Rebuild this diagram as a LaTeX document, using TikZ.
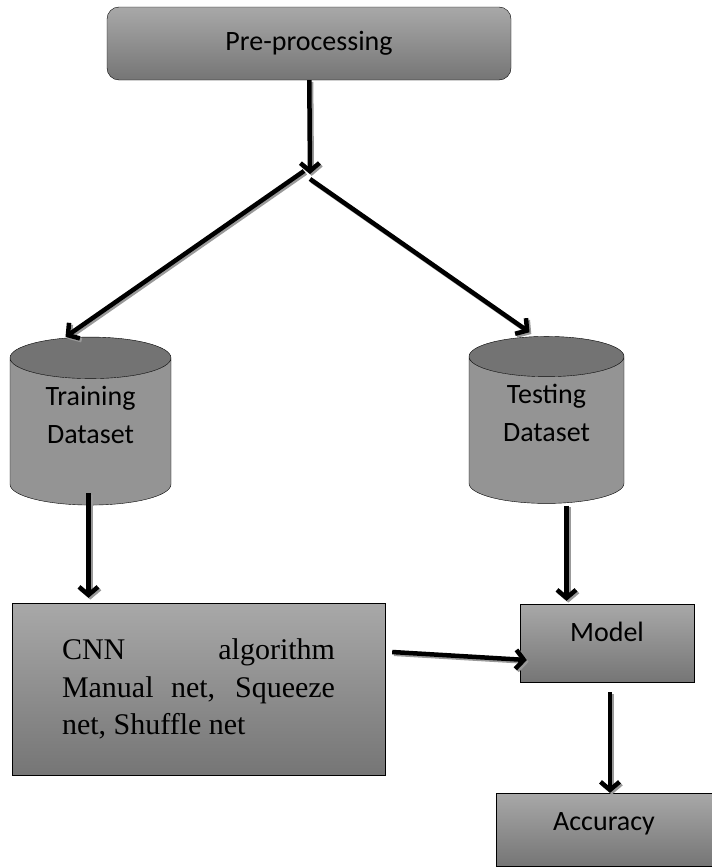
\documentclass[tikz,border=0pt]{standalone}
\usepackage{fontspec}
\setmainfont{Carlito}
\newfontfamily\timesfont{Liberation Serif}
\usepackage{tikz}
\usetikzlibrary{arrows.meta,shapes,calc}

\tikzset{
  grayshade/.style={draw,top color=black!34,bottom color=black!54},
  datacyl/.style={draw,cylinder,shape border rotate=90,aspect=0.43,
    cylinder uses custom fill,cylinder body fill=black!42,cylinder end fill=black!55,
    align=center,text depth=40bp,font=\fontsize{28bp}{38bp}\selectfont},
  flow/.style={->,line width=4.5bp,
    preaction={draw=black!40,line width=4.5bp,transform canvas={xshift=1.8bp,yshift=-1.8bp}}}
}

\begin{document}
\begin{tikzpicture}[font=\fontsize{28bp}{34bp}\selectfont,>={Straight Barb[length=8bp,width=19bp]}]
\useasboundingbox (0bp,0bp) rectangle (712bp,-867bp);
\node (pre) at (309bp,-43.5bp)[grayshade,rounded corners=12bp,minimum width=404bp,minimum height=73bp] {Pre-processing};
\coordinate (fork) at (310bp,-174bp);
\node (train) at (90.5bp,-434.5bp)[datacyl,minimum width=161bp,minimum height=168bp] {Training\\Dataset};
\node (test) at (546.5bp,-433bp)[datacyl,minimum width=155bp,minimum height=167bp] {Testing\\Dataset};
\node (cnn) at (198.5bp,-689bp)[grayshade,minimum width=373bp,minimum height=172bp,
  font=\timesfont\fontsize{30bp}{37.5bp}\selectfont,align=left]
  {\makebox[273bp][s]{CNN algorithm}\\\makebox[273bp][s]{Manual net, Squeeze}\\net, Shuffle net\hspace*{\fill}};
\node (model) at (607bp,-643bp)[grayshade,minimum width=174bp,minimum height=78bp,text depth=22bp] {Model};
\node (acc) at (604bp,-829.5bp)[grayshade,minimum width=216bp,minimum height=73bp,text depth=16bp] {Accuracy};
\draw [flow] (pre) to (fork);
\draw [flow] ([xshift=-6bp,yshift=3bp]fork) to ([xshift=-25bp]train.north);
\draw [flow] ([yshift=-5bp]fork) to ([xshift=-17bp,yshift=4bp]test.north);
\draw [flow] ([xshift=-2bp,yshift=12bp]train.south) to ([xshift=-2bp,yshift=5bp]train.south |- cnn.north);
\draw [flow] ([xshift=20bp,yshift=-2bp]test.south) to ([xshift=20bp,yshift=3bp]test.south |- model.north);
\draw [flow] ([xshift=7bp,yshift=37bp]cnn.east) to ([xshift=7bp,yshift=-17bp]model.west);
\draw [flow] ([xshift=3bp,yshift=-10bp]model.south) to ([xshift=3bp]model.south |- acc.north);
\end{tikzpicture}
\end{document}
